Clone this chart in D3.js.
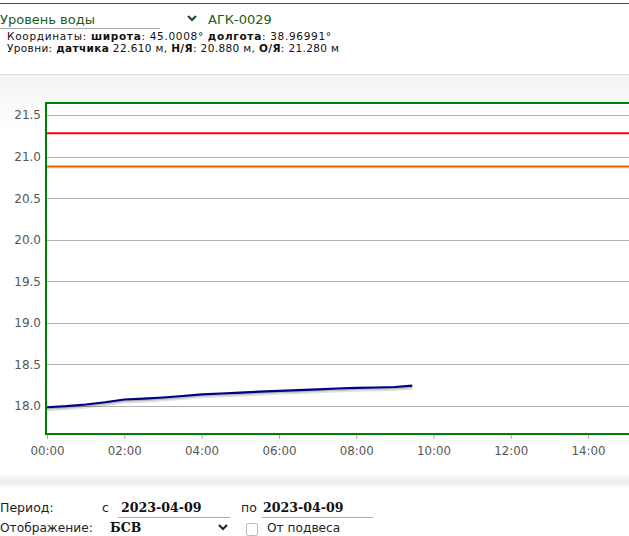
<!DOCTYPE html>
<html><head><meta charset="utf-8">
<script src="https://cdn.jsdelivr.net/npm/d3@7"></script>
<style>
html,body{margin:0;padding:0;width:629px;height:536px;overflow:hidden;background:#fff;font-family:"DejaVu Sans",Verdana,sans-serif;}
svg{position:absolute;left:0;top:0;}
</style></head>
<body>
<svg id="c" width="629" height="536"></svg>
<script>
// ---- data ----
const stationName = "АГК-0029";
const paramName = "Уровень воды";
const coordLine = ["Координаты: ", "широта", ": 45.0008° ", "долгота", ": 38.96991°"];
const levelLine = ["Уровни: ", "датчика", " 22.610 м, ", "Н/Я", ": 20.880 м, ", "О/Я", ": 21.280 м"];
const hours = [0,0.5,1,1.5,2,2.5,3,3.5,4,4.5,5,5.5,6,6.5,7,7.5,8,8.5,9,9.45];
const levels = [17.985,17.998,18.018,18.045,18.078,18.088,18.102,18.12,18.14,18.15,18.16,18.172,18.182,18.19,18.20,18.21,18.218,18.222,18.228,18.244];
const nyLevel = 20.88;   // Н/Я
const oyLevel = 21.28;   // О/Я
const yTicks = [18.0,18.5,19.0,19.5,20.0,20.5,21.0,21.5];
const xTickHours = [0,2,4,6,8,10,12,14];
const periodFrom = "2023-04-09", periodTo = "2023-04-09";
const displayMode = "БСВ";

const svg = d3.select("#c");
const day = new Date(2023,3,9,0,0,0);
const t = h => new Date(day.getTime() + h*3600e3);
const W = 629;

// header
svg.append("line").attr("x1",0).attr("x2",W).attr("y1",3.5).attr("y2",3.5).attr("stroke","#1f6b1f").attr("stroke-width",1);
svg.append("text").attr("x",0).attr("y",24).attr("font-size",13).attr("fill","#1a5c1a").text(paramName);
svg.append("line").attr("x1",0).attr("x2",160).attr("y1",28.5).attr("y2",28.5).attr("stroke","#aaa");
svg.append("path").attr("d","M188,16 l4,4 l4,-4").attr("fill","none").attr("stroke","#1a4a1a").attr("stroke-width",2);
svg.append("text").attr("x",208).attr("y",24).attr("font-size",13).attr("fill","#1a5c1a").text(stationName);
function richLine(parts,y,len){
  const tx = svg.append("text").attr("x",7).attr("y",y).attr("font-size",10.5).attr("fill","#111")
    .attr("textLength",len).attr("lengthAdjust","spacing");
  parts.forEach((p,i)=>tx.append("tspan").attr("font-weight",i%2?"bold":"normal").text(p));
}
richLine(coordLine,39.5,324);
richLine(levelLine,51.5,332);

// panel background
const defs = svg.append("defs");
const g1 = defs.append("linearGradient").attr("id","pg").attr("x1",0).attr("x2",0).attr("y1",0).attr("y2",1);
g1.append("stop").attr("offset",0).attr("stop-color","#f4f4f4");
g1.append("stop").attr("offset",1).attr("stop-color","#ffffff");
svg.append("rect").attr("x",0).attr("y",74).attr("width",W).attr("height",60).attr("fill","url(#pg)");
svg.append("line").attr("x1",0).attr("x2",W).attr("y1",74.5).attr("y2",74.5).attr("stroke","#dedede");
const g2 = defs.append("linearGradient").attr("id","sg").attr("x1",0).attr("x2",0).attr("y1",0).attr("y2",1);
g2.append("stop").attr("offset",0).attr("stop-color","#ffffff");
g2.append("stop").attr("offset",0.6).attr("stop-color","#ececec");
g2.append("stop").attr("offset",1).attr("stop-color","#ffffff");
svg.append("rect").attr("x",0).attr("y",474).attr("width",W).attr("height",14).attr("fill","url(#sg)");

// scales (plot extends past the window's right edge)
const x = d3.scaleTime().domain([t(0), t(24)]).range([47, 974.6]);
const y = d3.scaleLinear().domain([17.663, 21.644]).range([434, 103]);

svg.append("rect").attr("x",47).attr("y",103).attr("width",W).attr("height",331).attr("fill","#fff");

// grid
svg.append("g").selectAll("line").data(yTicks).join("line")
  .attr("x1",47).attr("x2",W).attr("y1",d=>Math.round(y(d))+0.5).attr("y2",d=>Math.round(y(d))+0.5)
  .attr("stroke","#b0b0b0").attr("stroke-width",1);

// y labels
svg.append("g").selectAll("text").data(yTicks).join("text")
  .attr("x",41).attr("y",d=>y(d)+4.5).attr("text-anchor","end").attr("font-size",12).attr("fill","#555")
  .text(d=>d3.format(".1f")(d));

// x axis ticks + labels
const xa = svg.append("g").attr("transform","translate(0,434)")
  .call(d3.axisBottom(x).tickValues(xTickHours.map(t)).tickFormat(d3.timeFormat("%H:%M")).tickSize(5).tickPadding(8));
xa.select(".domain").remove();
xa.selectAll("line").attr("stroke","#aaa");
xa.selectAll("text").attr("font-size",11.8).attr("fill","#555").attr("font-family","DejaVu Sans, sans-serif");

// threshold lines
svg.append("line").attr("x1",47).attr("x2",W).attr("y1",y(oyLevel)).attr("y2",y(oyLevel)).attr("stroke","#ff0000").attr("stroke-width",2);
svg.append("line").attr("x1",47).attr("x2",W).attr("y1",y(nyLevel)+1).attr("y2",y(nyLevel)+1).attr("stroke","#f0c090").attr("stroke-width",2).attr("opacity",0.6);
svg.append("line").attr("x1",47).attr("x2",W).attr("y1",y(nyLevel)).attr("y2",y(nyLevel)).attr("stroke","#e06a10").attr("stroke-width",2);

// data line with shadow
const pts = hours.map((h,i)=>[t(h),levels[i]]);
const line = d3.line().x(d=>x(d[0])).y(d=>y(d[1]));
svg.append("path").datum(pts).attr("d",line).attr("transform","translate(0,2)").attr("fill","none").attr("stroke","#000").attr("stroke-opacity",0.12).attr("stroke-width",4);
svg.append("path").datum(pts).attr("d",line).attr("transform","translate(0,1)").attr("fill","none").attr("stroke","#000").attr("stroke-opacity",0.18).attr("stroke-width",2.5);
svg.append("path").datum(pts).attr("d",line).attr("fill","none").attr("stroke","#000080").attr("stroke-width",2.2);

// border
svg.append("rect").attr("x",46).attr("y",103).attr("width",W).attr("height",331).attr("fill","none").attr("stroke","#008000").attr("stroke-width",2);

// controls
function txt(xp,yp,s,opt={}){
  return svg.append("text").attr("x",xp).attr("y",yp).attr("font-size",opt.size||12.5).attr("fill",opt.fill||"#222")
   .attr("font-weight",opt.bold?"bold":"normal").attr("font-family",opt.font||"DejaVu Sans, sans-serif").text(s);
}
txt(0,512,"Период:");
txt(102,512,"с");
txt(121,512,periodFrom,{bold:true,font:"DejaVu Serif, serif",size:12.6,fill:"#111"});
svg.append("line").attr("x1",118).attr("x2",230).attr("y1",517.5).attr("y2",517.5).attr("stroke","#aaa");
txt(241,512,"по");
txt(263,512,periodTo,{bold:true,font:"DejaVu Serif, serif",size:12.6,fill:"#111"});
svg.append("line").attr("x1",262).attr("x2",373).attr("y1",517.5).attr("y2",517.5).attr("stroke","#aaa");
txt(0,532,"Отображение:",{size:12.2});
txt(110,532,displayMode,{bold:true,font:"DejaVu Serif, serif",size:12.5,fill:"#111"});
svg.append("path").attr("d","M219,525 l4,4 l4,-4").attr("fill","none").attr("stroke","#222").attr("stroke-width",2);
svg.append("rect").attr("x",246.5).attr("y",523.5).attr("width",11).attr("height",12).attr("rx",2).attr("fill","#fff").attr("stroke","#bbb");
txt(267,532,"От подвеса",{size:12.2});
</script>
</body></html>
